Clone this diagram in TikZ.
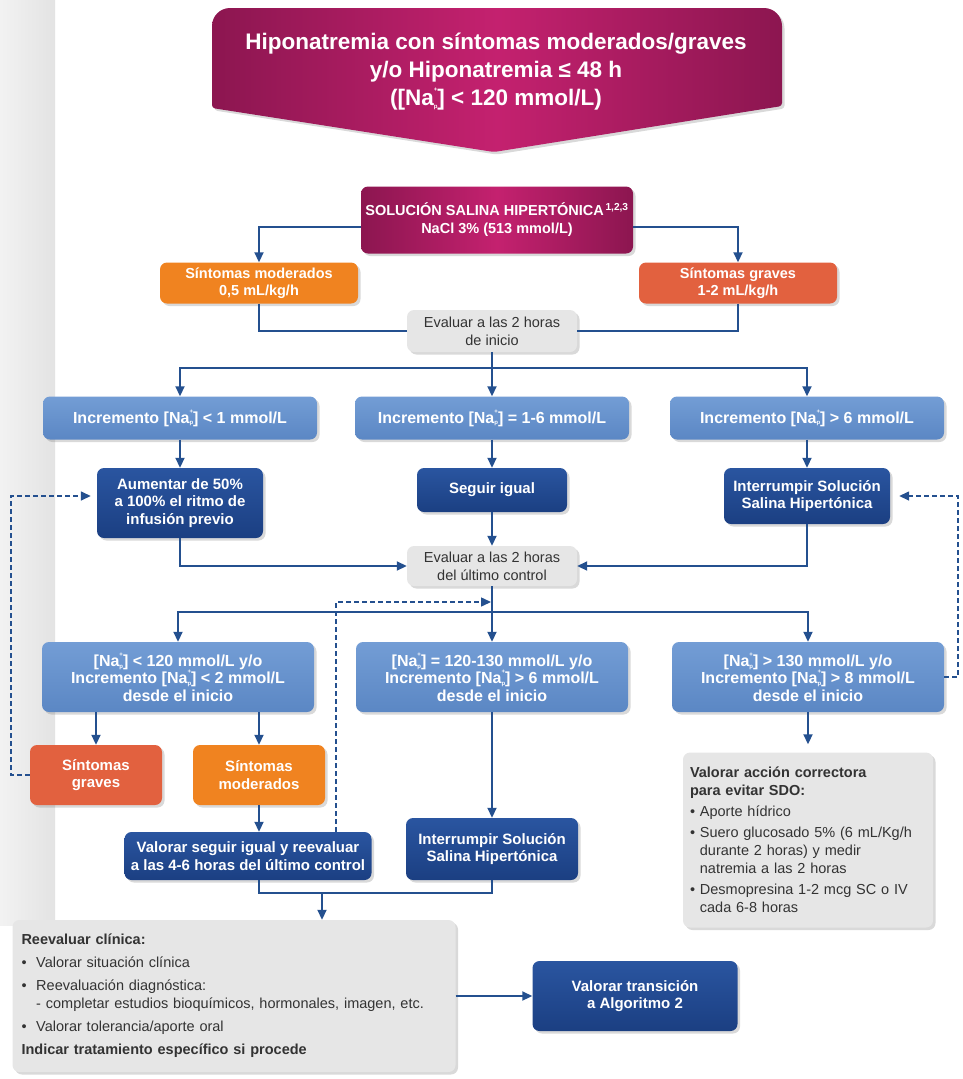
\documentclass[tikz,border=0pt]{standalone}
\usepackage{fontspec}
\setmainfont{Liberation Sans}
\usetikzlibrary{arrows.meta,shadows}

\definecolor{magclaro}{HTML}{C4216F}
\definecolor{magoscuro}{HTML}{8C1650}
\definecolor{azulclaro}{HTML}{739DD5}
\definecolor{azulclarob}{HTML}{5B87C4}
\definecolor{azuloscuro}{HTML}{2A55A0}
\definecolor{azuloscurob}{HTML}{1B3F82}
\definecolor{naranja}{HTML}{F08320}
\definecolor{coral}{HTML}{E2613F}
\definecolor{grisclaro}{HTML}{E6E6E6}
\definecolor{colorlinea}{HTML}{24508F}
\definecolor{textogris}{HTML}{333333}

\newcommand{\nap}{Na\rlap{\raisebox{0.62em}{\fontsize{6}{6}\selectfont +}}%
    \raisebox{-0.12em}{\fontsize{6}{6}\selectfont p}}

\begin{document}
\begin{tikzpicture}[x=1pt,y=-1pt,
    caja/.style={rounded corners=7pt, align=center, inner sep=3pt, text=white,
        font=\bfseries\fontsize{15}{17.5}\selectfont,
        drop shadow={opacity=0.3, shadow xshift=2.5pt, shadow yshift=-2.5pt}},
    claro/.style={caja, top color=azulclaro, bottom color=azulclarob,
        font=\bfseries\fontsize{16}{17.5}\selectfont},
    oscuro/.style={caja, top color=azuloscuro, bottom color=azuloscurob},
    naranjabox/.style={caja, fill=naranja},
    coralbox/.style={caja, fill=coral},
    grisbox/.style={caja, fill=grisclaro, text=textogris,
        font=\fontsize{14.5}{18}\selectfont},
    conector/.style={draw=colorlinea, line width=1.8pt},
    flecha/.style={conector, -{Triangle[width=9pt,length=10pt]}},
    discont/.style={draw=colorlinea, line width=1.5pt, dash pattern=on 5pt off 3pt,
        -{Triangle[width=9pt,length=10pt]}}]

    \useasboundingbox (0,0) rectangle (963,1079);

    % barra gris lateral
    \shade[left color=gray!10, right color=gray!22] (0,0) rectangle (55,925);

    % cabecera
    \shade[left color=magoscuro, right color=magoscuro, middle color=magclaro,
        drop shadow={opacity=0.3, shadow xshift=2.5pt, shadow yshift=-2.5pt}]
        (212,60) [rounded corners=18pt] -- (212,8) -- (782,8) -- (782,60)
        [rounded corners=3pt] -- (782,106) -- (494,152) -- (212,108) -- cycle;
    \node[font=\bfseries\fontsize{22.5}{28}\selectfont, text=white, align=center] (titulo) at (496,72)
        {Hiponatremia con síntomas moderados/graves\\ y/o Hiponatremia ≤ 48 h\\ ([\nap] < 120 mmol/L)};

    \node[caja, left color=magoscuro, right color=magoscuro, middle color=magclaro,
        minimum width=272pt, minimum height=67pt, font=\bfseries\fontsize{14.5}{18}\selectfont]
        (salina) at (497,220) {SOLUCIÓN SALINA HIPERTÓNICA\textsuperscript{\,1,2,3}\\ NaCl 3\% (513 mmol/L)};

    \node[naranjabox, minimum width=198pt, minimum height=41pt, font=\bfseries\fontsize{14.5}{17}\selectfont]
        (smod) at (259,283) {Síntomas moderados\\ 0,5 mL/kg/h};
    \node[coralbox, minimum width=198pt, minimum height=41pt, font=\bfseries\fontsize{14.5}{17}\selectfont]
        (sgra) at (738,283) {Síntomas graves\\ 1-2 mL/kg/h};
    \node[grisbox, minimum width=170pt, minimum height=42pt] (eval1) at (492,331)
        {Evaluar a las 2 horas\\ de inicio};

    % primer control
    \node[claro, minimum width=274pt, minimum height=43pt] (inc1) at (180,418)
        {Incremento [\nap] < 1 mmol/L};
    \node[claro, minimum width=274pt, minimum height=43pt] (inc2) at (492,418)
        {Incremento [\nap] = 1-6 mmol/L};
    \node[claro, minimum width=274pt, minimum height=43pt] (inc3) at (807,418)
        {Incremento [\nap] > 6 mmol/L};

    \node[oscuro, minimum width=166pt, minimum height=70pt] (aum) at (180,503)
        {Aumentar de 50\%\\ a 100\% el ritmo de\\ infusión previo};
    \node[oscuro, minimum width=150pt, minimum height=44pt] (seg) at (492,490) {Seguir igual};
    \node[oscuro, minimum width=166pt, minimum height=56pt] (intr1) at (807,496)
        {Interrumpir Solución\\ Salina Hipertónica};

    \node[grisbox, minimum width=170pt, minimum height=40pt] (eval2) at (492,566)
        {Evaluar a las 2 horas\\ del último control};

    % segundo control
    \node[claro, minimum width=272pt, minimum height=70pt] (filaA) at (178,677)
        {[\nap] < 120 mmol/L y/o\\ Incremento [\nap] < 2 mmol/L\\ desde el inicio};
    \node[claro, minimum width=272pt, minimum height=70pt] (filaB) at (492,677)
        {[\nap] = 120-130 mmol/L y/o\\ Incremento [\nap] > 6 mmol/L\\ desde el inicio};
    \node[claro, minimum width=272pt, minimum height=70pt] (filaC) at (808,677)
        {[\nap] > 130 mmol/L y/o\\ Incremento [\nap] > 8 mmol/L\\ desde el inicio};

    \node[coralbox, minimum width=132pt, minimum height=60pt] (sgra2) at (96,775) {Síntomas\\ graves};
    \node[naranjabox, minimum width=132pt, minimum height=60pt] (smod2) at (259,775) {Síntomas\\ moderados};
    \node[oscuro, minimum width=247pt, minimum height=48pt] (valseg) at (248,856)
        {Valorar seguir igual y reevaluar\\ a las 4-6 horas del último control};
    \node[oscuro, minimum width=172pt, minimum height=62pt] (intr2) at (492,849)
        {Interrumpir Solución\\ Salina Hipertónica};

    \node[grisbox, text width=236pt, align=left, minimum height=175pt, inner sep=7pt] (accion) at (808,840)
        {\textbf{Valorar acción correctora}\\ \textbf{para evitar SDO:}\\[3pt]
         \textbullet\ Aporte hídrico\\[3pt]
         \textbullet\ Suero glucosado 5\% (6 mL/Kg/h\\
         \hphantom{\textbullet\ }durante 2 horas) y medir\\
         \hphantom{\textbullet\ }natremia a las 2 horas\\[3pt]
         \textbullet\ Desmopresina 1-2 mcg SC o IV\\
         \hphantom{\textbullet\ }cada 6-8 horas};

    % final
    \node[grisbox, text width=425pt, align=left, minimum height=152pt, inner sep=9pt] (reev) at (234,996)
        {\textbf{Reevaluar clínica:}\\[5pt]
         \textbullet\ \ Valorar situación clínica\\[5pt]
         \textbullet\ \ Reevaluación diagnóstica:\\
         \hphantom{\textbullet\ \ }- completar estudios bioquímicos, hormonales, imagen, etc.\\[5pt]
         \textbullet\ \ Valorar tolerancia/aporte oral\\[5pt]
         \textbf{Indicar tratamiento específico si procede}};
    \node[oscuro, minimum width=205pt, minimum height=70pt] (trans) at (635,996)
        {Valorar transición\\ a Algoritmo 2};

    \coordinate (r1) at (492,368);
    \coordinate (r2) at (492,612);
    \coordinate (r3) at (322,893);
    \coordinate (izq) at (11,496);
    \coordinate (der) at (958,496);
    \coordinate (med) at (336,602);

    % conectores
    \draw[flecha] ([yshift=-7pt]salina.west) -| (smod.north);
    \draw[flecha] ([yshift=-7pt]salina.east) -| (sgra.north);
    \draw[conector] (smod.south) |- (eval1.west);
    \draw[conector] (sgra.south) |- (eval1.east);
    \draw[conector] (eval1.south) -- (r1);
    \draw[flecha] (r1) -| (inc1.north);
    \draw[flecha] (r1) -- (inc2.north);
    \draw[flecha] (r1) -| (inc3.north);

    \draw[flecha] (inc1) -- (aum);
    \draw[flecha] (inc2) -- (seg);
    \draw[flecha] (inc3) -- (intr1);
    \draw[flecha] (aum.south) |- (eval2.west);
    \draw[flecha] (seg) -- (eval2);
    \draw[flecha] (intr1.south) |- (eval2.east);

    \draw[flecha] (eval2.south) -- (filaB.north);
    \draw[flecha] (r2) -| (filaA.north);
    \draw[flecha] (r2) -| (filaC.north);

    \draw[flecha] (sgra2.north |- filaA.south) -- (sgra2.north);
    \draw[flecha] (smod2.north |- filaA.south) -- (smod2.north);
    \draw[flecha] (smod2.south) -- (smod2.south |- valseg.north);
    \draw[flecha] (filaB) -- (intr2);
    \draw[flecha, shorten >=8pt] (filaC) -- (accion);

    \draw[conector] (smod2.south |- valseg.south) |- (r3) -| (intr2.south);
    \draw[flecha] (r3) -- (r3 |- reev.north);
    \draw[flecha] (reev.east) -- (trans.west);

    % retornos discontinuos
    \draw[discont, shorten >=6pt] (sgra2.west) -| (izq) -- (izq -| aum.west);
    \draw[discont, shorten >=1pt] (valseg.north -| med) -- (med) -- (med -| eval2.south);
    \draw[discont, shorten >=9pt] (filaC.east) -| (der) -- (der -| intr1.east);

\end{tikzpicture}
\end{document}
